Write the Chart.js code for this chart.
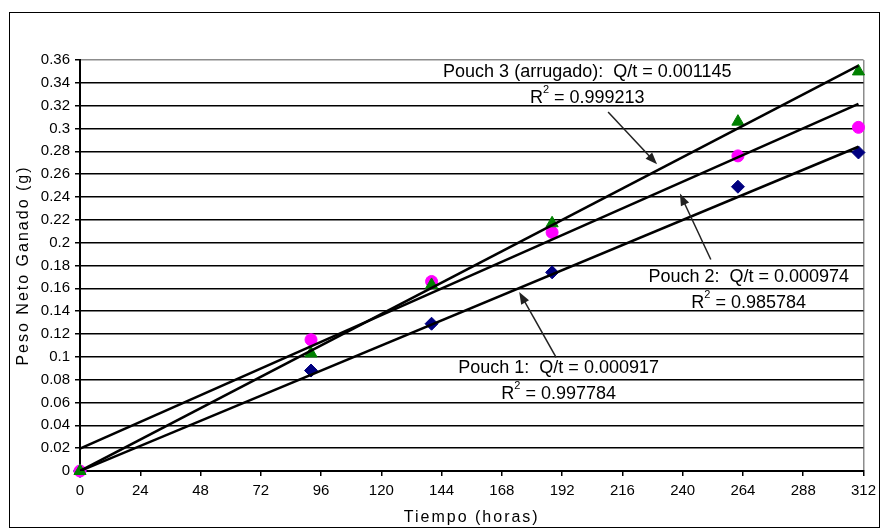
<!DOCTYPE html>
<html>
<head>
<meta charset="utf-8">
<script src="https://cdn.jsdelivr.net/npm/chart.js@4"></script>
<style>
  body { margin: 0; background: #fff; }
  #wrap { width: 882px; height: 529px; }
</style>
</head>
<body>
<div id="wrap"><canvas id="chart" width="882" height="529"></canvas></div>
<script>
const hours = [0, 92, 140, 188, 262, 310];
const pouch1 = [0, 0.088, 0.129, 0.174, 0.249, 0.279];
const pouch2 = [0, 0.115, 0.166, 0.209, 0.276, 0.301];
const pouch3 = [0, 0.103, 0.163, 0.217, 0.306, 0.350];

const fitHours = [0, 310];
const fit1 = [0, 0.284];
const fit2 = [0.0196, 0.3215];
const fit3 = [0, 0.355];

const xTicks = [0, 24, 48, 72, 96, 120, 144, 168, 192, 216, 240, 264, 288, 312];
const yTicks = [0, 0.02, 0.04, 0.06, 0.08, 0.1, 0.12, 0.14, 0.16, 0.18, 0.2,
  0.22, 0.24, 0.26, 0.28, 0.3, 0.32, 0.34, 0.36];

// callouts (data coords)
const notes = [
  { text: 'Pouch 3 (arrugado):  Q/t = 0.001145', r2: '0.999213',
    at: [202, 0.3495], from: [210.3, 0.3144], to: [229.8, 0.2686] },
  { text: 'Pouch 2:  Q/t = 0.000974', r2: '0.985784',
    at: [266.3, 0.1697], from: [251.2, 0.1853], to: [238.9, 0.2431] },
  { text: 'Pouch 1:  Q/t = 0.000917', r2: '0.997784',
    at: [190.6, 0.090], from: [189.6, 0.0996], to: [174.9, 0.1568] },
];

const pts = (xs, ys) => xs.map((x, i) => ({ x: x, y: ys[i] }));

Chart.defaults.font.family = '"Liberation Sans", Arial, sans-serif';
Chart.defaults.color = '#000';

function arrow(ctx, x1, y1, x2, y2) {
  const a = Math.atan2(y2 - y1, x2 - x1);
  const c = Math.cos(a), s = Math.sin(a);
  ctx.beginPath();
  ctx.moveTo(x1, y1);
  ctx.lineTo(x2 - 8 * c, y2 - 8 * s);
  ctx.stroke();
  ctx.beginPath();
  ctx.moveTo(x2, y2);
  ctx.lineTo(x2 - 12 * c + 4.5 * s, y2 - 12 * s - 4.5 * c);
  ctx.lineTo(x2 - 12 * c - 4.5 * s, y2 - 12 * s + 4.5 * c);
  ctx.closePath();
  ctx.fill();
}

const extras = {
  id: 'extras',
  beforeDraw(chart) {
    const ctx = chart.ctx;
    ctx.save();
    ctx.fillStyle = '#fff';
    ctx.fillRect(0, 0, chart.width, chart.height);
    ctx.restore();
  },
  afterDatasetsDraw(chart) {
    const ctx = chart.ctx;
    const xs = chart.scales.x, ys = chart.scales.y;
    ctx.save();
    ctx.strokeStyle = '#222';
    ctx.fillStyle = '#222';
    ctx.lineWidth = 1.5;
    notes.forEach(n => {
      arrow(ctx, xs.getPixelForValue(n.from[0]), ys.getPixelForValue(n.from[1]),
        xs.getPixelForValue(n.to[0]), ys.getPixelForValue(n.to[1]));
    });
    ctx.fillStyle = '#000';
    ctx.textBaseline = 'middle';
    notes.forEach(n => {
      const cx = xs.getPixelForValue(n.at[0]);
      const cy = ys.getPixelForValue(n.at[1]);
      ctx.font = '18px "Liberation Sans", Arial';
      ctx.textAlign = 'center';
      ctx.fillText(n.text, cx, cy);
      // R² line
      const rest = ' = ' + n.r2;
      const wR = ctx.measureText('R').width;
      const wRest = ctx.measureText(rest).width;
      ctx.font = '11px "Liberation Sans", Arial';
      const w2 = ctx.measureText('2').width;
      let x = cx - (wR + w2 + wRest) / 2;
      const y = cy + 26;
      ctx.textAlign = 'left';
      ctx.font = '18px "Liberation Sans", Arial';
      ctx.fillText('R', x, y);
      ctx.font = '11px "Liberation Sans", Arial';
      ctx.fillText('2', x + wR, y - 8);
      ctx.font = '18px "Liberation Sans", Arial';
      ctx.fillText(rest, x + wR + w2, y);
    });
    ctx.restore();
  },
  afterDraw(chart) {
    const ctx = chart.ctx;
    const a = chart.chartArea;
    ctx.save();
    ctx.fillStyle = '#000';
    ctx.font = '16px "Liberation Sans", Arial';
    ctx.letterSpacing = '2px';
    ctx.textAlign = 'center';
    ctx.textBaseline = 'middle';
    ctx.fillText('Tiempo (horas)', (a.left + a.right) / 2, 518);
    ctx.translate(24, (a.top + a.bottom) / 2);
    ctx.rotate(-Math.PI / 2);
    ctx.fillText('Peso Neto Ganado (g)', 0, 0);
    ctx.restore();
    ctx.save();
    ctx.strokeStyle = '#000';
    ctx.lineWidth = 1;
    ctx.strokeRect(9.5, 12.5, 870, 515);
    ctx.restore();
  }
};

const fitStyle = {
  showLine: true, borderColor: '#000', borderWidth: 2.5,
  pointRadius: 0, fill: false, order: 0
};

new Chart(document.getElementById('chart'), {
  type: 'scatter',
  data: {
    datasets: [
      { label: 'Pouch 1', data: pts(hours, pouch1), pointStyle: 'rectRot',
        pointRadius: 6.5, backgroundColor: '#000080', borderColor: '#000080',
        order: 3, clip: false },
      { label: 'Pouch 2', data: pts(hours, pouch2), pointStyle: 'circle',
        pointRadius: 6, backgroundColor: '#ff00ff', borderColor: '#ff00ff',
        order: 2, clip: false },
      { label: 'Pouch 3', data: pts(hours, pouch3), pointStyle: 'triangle',
        pointRadius: 7, backgroundColor: '#008000', borderColor: '#008000',
        order: 1, clip: false },
      Object.assign({ label: 'fit 1', data: pts(fitHours, fit1) }, fitStyle),
      Object.assign({ label: 'fit 2', data: pts(fitHours, fit2) }, fitStyle),
      Object.assign({ label: 'fit 3', data: pts(fitHours, fit3) }, fitStyle),
    ],
  },
  options: {
    responsive: false,
    animation: false,
    events: [],
    layout: { padding: { left: 10, right: 17, top: 60, bottom: 1 } },
    plugins: {
      legend: { display: false },
      tooltip: { enabled: false },
    },
    scales: {
      x: {
        type: 'linear',
        min: 0,
        max: 312,
        afterBuildTicks: s => { s.ticks = xTicks.map(v => ({ value: v })); },
        afterFit: s => { s.height = 57; },
        ticks: { font: { size: 15 }, padding: 6, maxRotation: 0, autoSkip: false },
        grid: {
          color: c => (c.index === xTicks.length - 1 ? '#8c8c8c' : 'rgba(0,0,0,0)'),
          tickColor: '#000',
          tickLength: 5,
          lineWidth: 1.5,
        },
        border: { color: '#000', width: 2 },
      },
      y: {
        min: 0,
        max: 0.36,
        afterBuildTicks: s => { s.ticks = yTicks.map(v => ({ value: v })); },
        afterFit: s => { s.width = 70; },
        ticks: { font: { size: 15 }, padding: 5, callback: v => String(v), autoSkip: false },
        grid: {
          color: c => (c.tick && c.tick.value === 0.36 ? '#8c8c8c' : '#000'),
          tickColor: '#000',
          tickLength: 5,
          lineWidth: 1.5,
        },
        border: { color: '#000', width: 2 },
      },
    },
  },
  plugins: [extras],
});
</script>
</body>
</html>
